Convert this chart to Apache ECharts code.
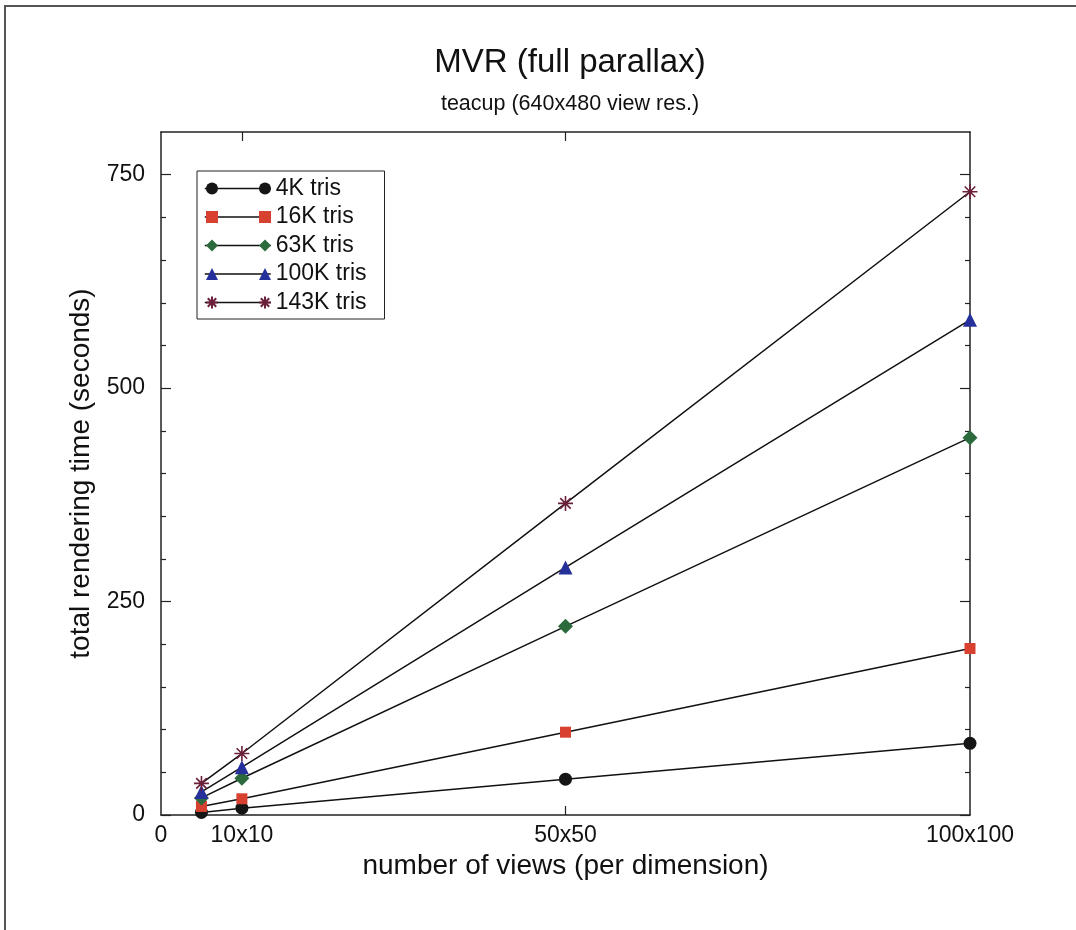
<!DOCTYPE html>
<html><head><meta charset="utf-8">
<script src="https://cdn.jsdelivr.net/npm/echarts@6/dist/echarts.min.js"></script>
<style>html,body{margin:0;padding:0;background:#fff}#c{width:1076px;height:930px}</style>
</head><body><div id="c"></div>
<script>
const viewsPerDim = [5, 10, 50, 100];
const xTickLabels = {0: '0', 10: '10x10', 50: '50x50', 100: '100x100'};
const seriesNames = ['4K tris', '16K tris', '63K tris', '100K tris', '143K tris'];
const tris4K   = [3, 8, 42, 84];
const tris16K  = [10, 19, 97, 195];
const tris63K  = [20, 43, 221, 442];
const tris100K = [27, 56, 290, 580];
const tris143K = [37, 72, 365, 730];
const yLabels = [0, 250, 500, 750];

const allValues = [tris4K, tris16K, tris63K, tris100K, tris143K];
const asterisk = 'path://M0,-10L0,10M-10,0L10,0M-7,-7L7,7M-7,7L7,-7';
const styles = [
  {symbol: 'circle', size: 13, color: '#151515'},
  {symbol: 'rect', size: 11, color: '#d8402f'},
  {symbol: 'diamond', size: 15, color: '#2b6a3c'},
  {symbol: 'triangle', size: 14, color: '#25309a'},
  {symbol: asterisk, size: 15, color: '#6b1f3a', stroke: true}
];

const font = '"Liberation Sans", Arial, sans-serif';
const chart = echarts.init(document.getElementById('c'));
const series = seriesNames.map((n, i) => {
  const s = styles[i];
  return {
    name: n, type: 'line', xAxisIndex: 0, yAxisIndex: 0,
    data: viewsPerDim.map((x, j) => [x, allValues[i][j]]),
    symbol: s.symbol, symbolSize: s.size, showAllSymbol: true,
    lineStyle: {color: '#111', width: 1.5},
    itemStyle: s.stroke ? {color: '#fff0', borderColor: s.color, borderWidth: 1.6}
                        : {color: s.color, borderWidth: 0},
    emphasis: {disabled: true}, animation: false, z: 3 + i
  };
});

const legendText = {fontFamily: font, fontSize: 23, color: '#111'};
const legendCommon = {
  top: 171, orient: 'vertical', itemHeight: 15, itemGap: 5.5,
  data: seriesNames, selectedMode: false
};
const markerLegend = (left) => Object.assign({}, legendCommon, {
  left: left, padding: [6, 0, 5, 0], itemWidth: 15, z: 6,
  lineStyle: {opacity: 0},
  textStyle: Object.assign({}, legendText, {color: 'rgba(0,0,0,0)'})
});

chart.setOption({
  animation: false,
  backgroundColor: '#fff',
  title: [
    {text: 'MVR (full parallax)', left: 565, top: 41, textAlign: 'center',
     textStyle: {fontFamily: font, fontSize: 33, fontWeight: 'normal', color: '#111'}},
    {text: 'teacup (640x480 view res.)', left: 565, top: 88, textAlign: 'center',
     textStyle: {fontFamily: font, fontSize: 21.5, fontWeight: 'normal', color: '#111'}}
  ],
  grid: {left: 161, top: 132, width: 809, height: 683, containLabel: false, show: false},
  legend: [
    Object.assign({}, legendCommon, {
      left: 197, padding: [6, 18, 5, 7], itemWidth: 66, z: 4,
      borderColor: '#222', borderWidth: 1, backgroundColor: '#fff',
      itemStyle: {opacity: 0},
      lineStyle: {color: '#111', width: 1.5},
      textStyle: legendText
    }),
    markerLegend(203.5),
    markerLegend(256.5)
  ],
  xAxis: [
    {type: 'value', position: 'bottom', min: 0, max: 100,
     name: 'number of views (per dimension)', nameLocation: 'middle', nameGap: 33,
     nameTextStyle: {fontFamily: font, fontSize: 28, color: '#111'},
     axisLine: {onZero: false, lineStyle: {color: '#222', width: 1.5}},
     axisTick: {inside: true, length: 9, customValues: [10, 50], lineStyle: {color: '#222', width: 1.2}},
     axisLabel: {customValues: [0, 10, 50, 100], formatter: v => xTickLabels[v], margin: 9,
                 fontFamily: font, fontSize: 23, color: '#111'},
     splitLine: {show: false}},
    {type: 'value', position: 'top', min: 0, max: 100,
     axisLine: {onZero: false, lineStyle: {color: '#222', width: 1.5}},
     axisTick: {inside: true, length: 9, customValues: [10, 50], lineStyle: {color: '#222', width: 1.2}},
     axisLabel: {show: false}, splitLine: {show: false}}
  ],
  yAxis: [
    {type: 'value', position: 'left', min: 0, max: 800, interval: 250,
     name: 'total rendering time (seconds)', nameLocation: 'middle', nameGap: 59, nameRotate: 90,
     nameTextStyle: {fontFamily: font, fontSize: 28, color: '#111'},
     axisLine: {onZero: false, lineStyle: {color: '#222', width: 1.5}},
     axisTick: {inside: true, length: 10, customValues: yLabels, lineStyle: {color: '#222', width: 1.2}},
     minorTick: {show: true, splitNumber: 5, length: 5, lineStyle: {color: '#222', width: 1.2}},
     axisLabel: {customValues: yLabels, margin: 16, fontFamily: font, fontSize: 23, color: '#111'},
     splitLine: {show: false}, minorSplitLine: {show: false}},
    {type: 'value', position: 'right', min: 0, max: 800, interval: 250,
     axisLine: {show: true, onZero: false, lineStyle: {color: '#222', width: 1.5}},
     axisTick: {show: true, inside: true, length: 10, customValues: yLabels, lineStyle: {color: '#222', width: 1.2}},
     minorTick: {show: true, splitNumber: 5, length: 5, lineStyle: {color: '#222', width: 1.2}},
     axisLabel: {show: false}, splitLine: {show: false}}
  ],
  graphic: [
    {type: 'polyline', shape: {points: [[5, 930], [5, 6], [1076, 6]]},
     style: {stroke: '#555', lineWidth: 2, fill: null}, silent: true}
  ],
  series: series
});
</script></body></html>
